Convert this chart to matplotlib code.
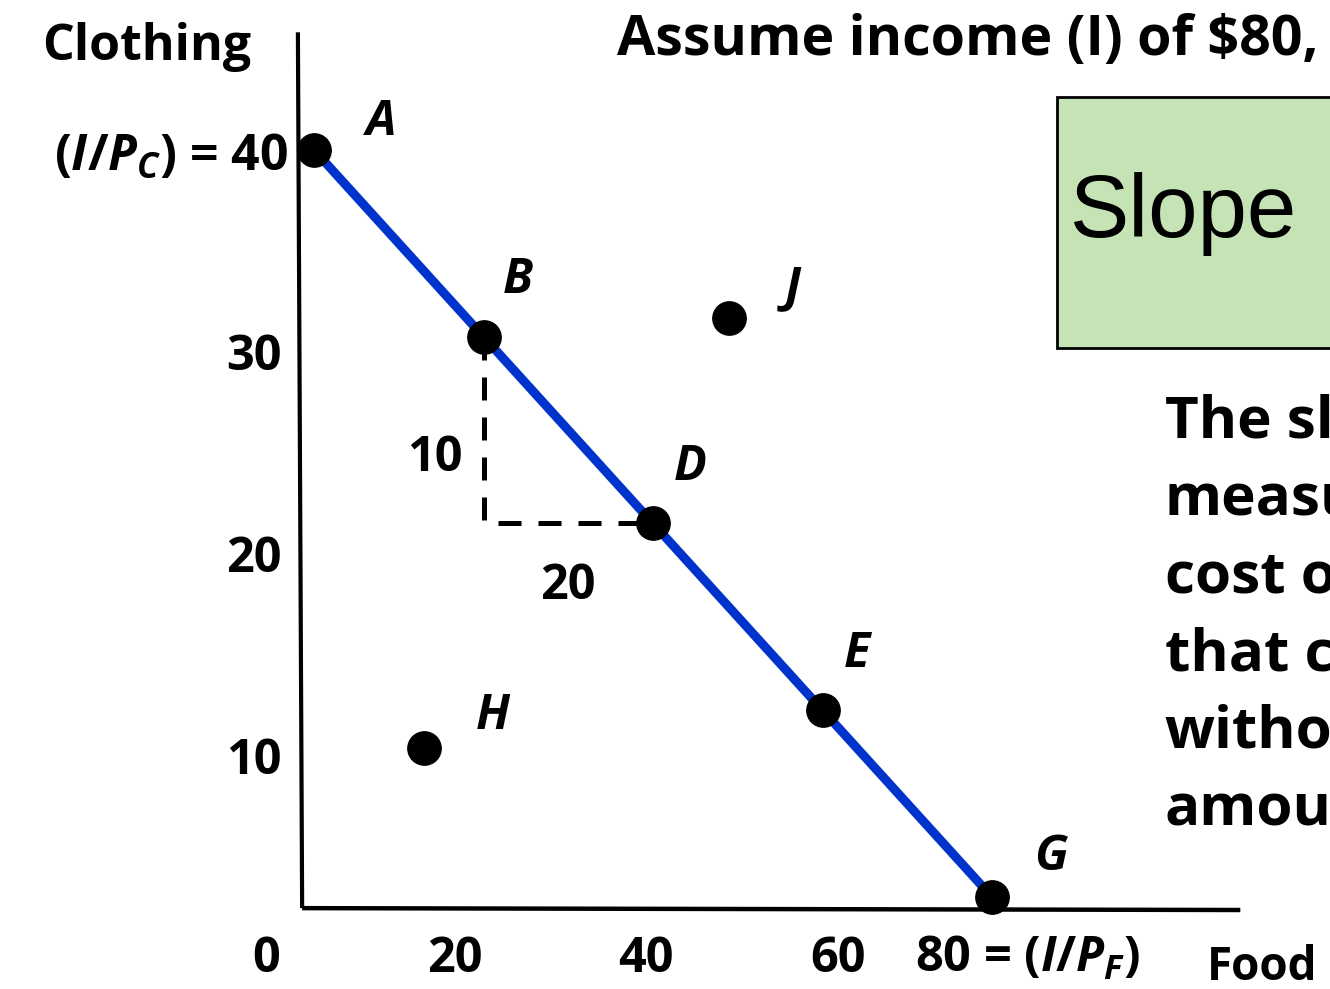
"""Budget line slide: clothing vs food, income $80."""
import matplotlib
matplotlib.use("Agg")
import matplotlib.pyplot as plt
from matplotlib import font_manager as fm
from matplotlib.patches import Rectangle

# budget line points (food, clothing)
LINE_NAMES = ["A", "B", "D", "E", "G"]
LINE_FOOD = [0, 20, 40, 60, 80]
LINE_CLOTH = [40, 30, 20, 10, 0]
# points off the line
OFF_NAMES = ["H", "J"]
OFF_FOOD = [13, 49]
OFF_CLOTH = [8, 31]
Y_TICKS = [30, 20, 10]
X_TICKS = [0, 20, 40, 60]
TEXT_LINES = ["The slope", "measures", "cost of", "that can", "without", "amount"]

FONT = "Open Sans"
plt.rcParams["font.family"] = [FONT, "DejaVu Sans"]
plt.rcParams["mathtext.fontset"] = "custom"
plt.rcParams["mathtext.rm"] = FONT + ":bold"
plt.rcParams["mathtext.it"] = FONT + ":bold:italic"
plt.rcParams["mathtext.bf"] = FONT + ":bold"


def narrow_font():
    # condensed sans for the "Slope" box, if there is one
    names = {f.name for f in fm.fontManager.ttflist}
    for cand in ["Liberation Sans Narrow", "Arial Narrow"]:
        if cand in names:
            return fm.FontProperties(family=cand, style="normal", weight="normal", size=74)
    return fm.FontProperties(family="Liberation Sans", size=64)


def main():
    fig = plt.figure(figsize=(13.3, 9.89), dpi=100)
    ax = fig.add_axes([0, 0, 1, 1])
    ax.set_xlim(-37.05, 119.88)
    ax.set_ylim(-4.93, 48.03)
    ax.axis("off")

    # axes
    ax.plot([-1.9, -1.4], [46.3, -0.6], color="black", lw=3, solid_capstyle="butt")
    ax.plot([-1.4, 109.3], [-0.6, -0.7], color="black", lw=3.2, solid_capstyle="butt")

    # slope triangle
    ax.plot([LINE_FOOD[1], LINE_FOOD[1], LINE_FOOD[2]],
            [LINE_CLOTH[1], LINE_CLOTH[2], LINE_CLOTH[2]],
            color="black", lw=3.6, dashes=(4.6, 3.4))

    ax.plot(LINE_FOOD, LINE_CLOTH, color="#0033CC", lw=6.5, zorder=3)
    ax.plot(LINE_FOOD, LINE_CLOTH, "o", color="black", ms=24, zorder=4)
    ax.plot(OFF_FOOD, OFF_CLOTH, "o", color="black", ms=24, zorder=4)

    bold = dict(fontweight="bold", color="black")
    # label offsets from the dot, pixels (right, up)
    offs = {"A": (67, 27), "B": (34, 56), "D": (37, 56), "E": (34, 56),
            "G": (59, 39), "H": (69, 31), "J": (63, 29)}
    for n, x, y in zip(LINE_NAMES + OFF_NAMES, LINE_FOOD + OFF_FOOD, LINE_CLOTH + OFF_CLOTH):
        dx, dy = offs[n]
        ax.annotate(n, (x, y), xytext=(dx * 0.72, dy * 0.72), textcoords="offset points",
                    fontsize=35, style="italic", ha="center", va="center", **bold)

    ax.text(14.3, 23.5, "10", fontsize=35, ha="center", va="center", **bold)
    ax.text(30.0, 16.65, "20", fontsize=35, ha="center", va="center", **bold)

    # axis labels and ticks
    ax.text(-19.7, 45.5, "Clothing", fontsize=36, ha="center", va="center", **bold)
    ax.text(-3.1, 39.6, r"$(I/P_C)$ = 40", fontsize=36, ha="right", va="center", **bold)
    for v, y in zip(Y_TICKS, [28.9, 18.05, 7.23]):
        ax.text(-3.8, y, str(v), fontsize=35, ha="right", va="center", **bold)
    for v, x in zip(X_TICKS, [-5.66, 16.6, 39.1, 61.8]):
        ax.text(x, -3.37, str(v), fontsize=35, ha="center", va="center", **bold)
    ax.text(70.9, -3.37, r"80 = $(I/P_F)$", fontsize=35, ha="left", va="center", **bold)
    ax.text(105.3, -3.8, "Food", fontsize=33, ha="left", va="center", **bold)

    ax.text(35.75, 45.85, "Assume income (I) of $80,", fontsize=40,
            ha="left", va="center", **bold)

    # green box
    ax.add_patch(Rectangle((87.7, 29.4), 45, 13.44, facecolor="#C5E3B5",
                           edgecolor="black", lw=2, zorder=2))
    ax.text(89.2, 35.34, "Slope", fontproperties=narrow_font(), ha="left",
            va="baseline", zorder=3)

    for i, t in enumerate(TEXT_LINES):
        y = (897 - (438 + 77.4 * i)) / 18.675
        ax.text(100.4, y, t, fontsize=42, ha="left", va="baseline", **bold)

    fig.savefig("out.png", dpi=100)


if __name__ == "__main__":
    main()
